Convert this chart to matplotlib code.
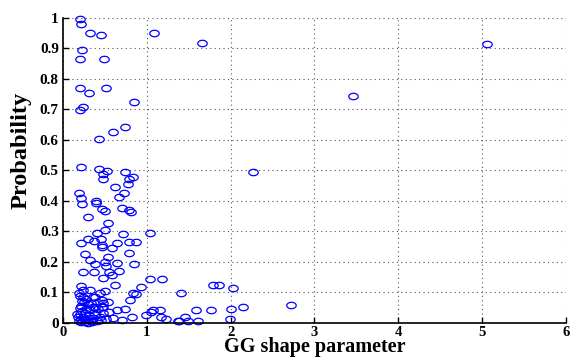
import matplotlib
matplotlib.use('Agg')
import matplotlib.pyplot as plt
import numpy as np
from matplotlib.path import Path

# GG shape parameter vs probability, one point per fit
shape = [0.20, 0.215, 0.32, 0.45, 1.09, 1.66, 5.06, 0.23, 0.20, 0.49,
         0.20, 0.31, 0.51, 0.85, 0.24, 0.20, 3.46, 0.74, 0.60, 0.43,
         0.21, 0.43, 0.52, 0.48, 0.48, 0.74, 0.84, 0.79, 0.78, 2.27,
         0.62, 0.73, 0.67, 0.19, 0.21, 0.23, 0.39, 0.39, 0.46, 0.50,
         0.70, 0.79, 0.81, 0.30, 0.54, 0.40, 0.50, 0.72, 1.04, 0.21,
         0.30, 0.37, 0.45, 0.47, 0.47, 0.58, 0.65, 0.79, 0.87, 0.79,
         0.26, 0.32, 0.38, 0.50, 0.54, 0.51, 0.64, 0.85, 0.24, 0.37,
         0.55, 0.67, 0.48, 0.58, 0.62, 1.04, 1.18, 0.21, 0.24, 0.32,
         0.50, 0.44, 0.38, 0.84, 0.87, 0.93, 0.80, 1.41, 1.79, 1.86,
         2.03, 0.20, 0.23, 0.47, 0.54, 0.36, 0.47, 0.64, 0.74, 0.99,
         1.05, 1.07, 1.16, 0.82, 0.70, 0.60, 1.17, 1.23, 1.37, 1.59,
         1.77, 2.00, 2.15, 2.72, 1.46, 1.38, 1.49, 1.61, 1.99,
         0.19, 0.24, 0.25, 0.30, 0.36, 0.38, 0.41, 0.48, 0.48, 0.20,
         0.23, 0.26, 0.32, 0.18, 0.21, 0.29, 0.36, 0.41, 0.44, 0.51,
         0.48, 0.55, 0.21, 0.26, 0.35, 0.17, 0.19, 0.24, 0.27, 0.31,
         0.33, 0.38, 0.42, 0.28, 0.34, 0.22, 0.45, 0.30, 0.26, 0.20]
prob = [0.997, 0.980, 0.950, 0.944, 0.951, 0.918, 0.913, 0.895, 0.866, 0.866,
        0.770, 0.754, 0.770, 0.725, 0.708, 0.698, 0.744, 0.643, 0.626, 0.603,
        0.511, 0.505, 0.498, 0.489, 0.472, 0.495, 0.479, 0.472, 0.456, 0.495,
        0.446, 0.426, 0.413, 0.426, 0.410, 0.390, 0.400, 0.393, 0.374, 0.367,
        0.377, 0.370, 0.364, 0.348, 0.328, 0.295, 0.305, 0.292, 0.295, 0.262,
        0.275, 0.269, 0.275, 0.256, 0.249, 0.246, 0.262, 0.266, 0.266, 0.230,
        0.226, 0.207, 0.193, 0.200, 0.216, 0.187, 0.197, 0.193, 0.167, 0.167,
        0.167, 0.170, 0.148, 0.157, 0.125, 0.144, 0.144, 0.121, 0.108, 0.108,
        0.105, 0.098, 0.085, 0.098, 0.095, 0.118, 0.075, 0.098, 0.125, 0.125,
        0.115, 0.089, 0.072, 0.075, 0.069, 0.052, 0.052, 0.043, 0.046, 0.026,
        0.036, 0.043, 0.043, 0.020, 0.010, 0.016, 0.020, 0.013, 0.007, 0.043,
        0.043, 0.046, 0.052, 0.059, 0.020, 0.007, 0.007, 0.007, 0.013,
        0.098, 0.085, 0.069, 0.062, 0.085, 0.052, 0.069, 0.066, 0.052, 0.049,
        0.039, 0.033, 0.043, 0.020, 0.013, 0.010, 0.016, 0.007, 0.020, 0.013,
        0.033, 0.036, 0.003, 0.003, 0.003, 0.030, 0.006, 0.020, 0.045, 0.025,
        0.005, 0.030, 0.045, 0.080, 0.065, 0.055, 0.010, 0.000, 0.012, 0.028]

xticks = [0, 1, 2, 3, 4, 5, 6]
yticks = [0, 0.1, 0.2, 0.3, 0.4, 0.5, 0.6, 0.7, 0.8, 0.9, 1]
ytick_labels = ['0', '0.1', '0.2', '0.3', '0.4', '0.5', '0.6', '0.7', '0.8', '0.9', '1']

# slightly flattened circle marker
t = np.linspace(0, 2 * np.pi, 41)
ell = Path(np.column_stack([np.cos(t), 0.68 * np.sin(t)]), closed=True)

fig = plt.figure(figsize=(5.7, 3.58), dpi=100)
ax = fig.add_axes([0.1105, 0.0978, 0.8825, 0.8522])

ax.plot(shape, prob, linestyle='none', marker=ell, markersize=6.8,
        markerfacecolor='none', markeredgecolor='#0000ff', markeredgewidth=0.9,
        clip_on=False)

ax.set_xlim(0, 6)
ax.set_ylim(0, 1)
ax.set_xticks(xticks)
ax.set_yticks(yticks)
ax.set_yticklabels(ytick_labels)
ax.grid(True, linestyle=(0, (1, 3)), color='#555555', linewidth=0.8)
ax.set_axisbelow(True)

for side in ['top', 'right']:
    ax.spines[side].set_visible(False)
for side in ['left', 'bottom']:
    ax.spines[side].set_linewidth(1.2)

ax.tick_params(direction='in', length=4, width=1, pad=3)
ax.tick_params(axis='x', pad=2)
for lab in ax.get_xticklabels() + ax.get_yticklabels():
    lab.set_fontfamily('Liberation Serif')
    lab.set_fontweight('bold')
    lab.set_fontsize(11)
for lab in ax.get_xticklabels():
    lab.set_fontsize(10.5)

ax.set_xlabel('GG shape parameter', fontfamily='Liberation Serif',
              fontweight='bold', fontsize=14.5, labelpad=-1)
ax.set_ylabel('Probability', fontfamily='Liberation Serif',
              fontweight='bold', fontsize=17.5, labelpad=4)
ax.yaxis.set_label_coords(-0.063, 0.567)

fig.savefig('out.png', dpi=100)
